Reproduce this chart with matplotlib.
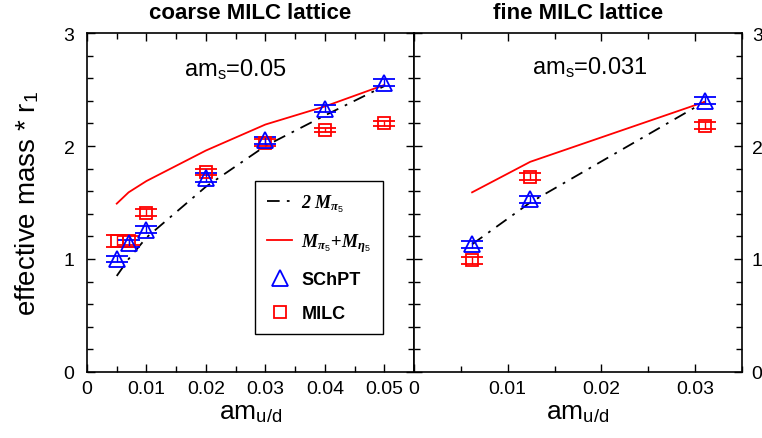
import numpy as np
import matplotlib
matplotlib.use("Agg")
import matplotlib.pyplot as plt
from matplotlib.ticker import MultipleLocator
from matplotlib.lines import Line2D

plt.rcParams['font.family'] = ['Liberation Sans', 'DejaVu Sans']
plt.rcParams['mathtext.fontset'] = 'custom'
plt.rcParams['mathtext.rm'] = 'Liberation Sans'
plt.rcParams['mathtext.it'] = 'Liberation Serif:italic:bold'
plt.rcParams['mathtext.bf'] = 'Liberation Serif:italic:bold'

# coarse lattice, am_s = 0.05
coarse_x = [0.005, 0.007, 0.01, 0.02, 0.03, 0.04, 0.05]
coarse_schpt = [1.00, 1.14, 1.26, 1.72, 2.05, 2.33, 2.56]
coarse_milc = [1.16, 1.16, 1.41, 1.77, 2.03, 2.14, 2.20]
coarse_2mpi = [0.85, 1.00, 1.19, 1.64, 2.00, 2.27, 2.53]
coarse_sum = [1.49, 1.59, 1.69, 1.96, 2.19, 2.35, 2.54]
coarse_err_s = [0.03, 0.03, 0.03, 0.04, 0.03, 0.03, 0.03]
coarse_err_m = [0.05, 0.04, 0.03, 0.03, 0.03, 0.02, 0.02]

# fine lattice, am_s = 0.031
fine_x = [0.0062, 0.0124, 0.031]
fine_schpt = [1.13, 1.53, 2.40]
fine_milc = [0.99, 1.73, 2.18]
fine_2mpi = [1.13, 1.50, 2.39]
fine_sum = [1.59, 1.86, 2.39]
fine_err_s = [0.03, 0.03, 0.03]
fine_err_m = [0.03, 0.03, 0.03]

fig = plt.figure(figsize=(7.62, 4.39), dpi=100)
W, H = 762.0, 439.0
ax1 = fig.add_axes([87 / W, (439 - 373) / H, 327 / W, 339 / H])
ax2 = fig.add_axes([414 / W, (439 - 373) / H, 328 / W, 339 / H])

dash = (0, (7, 4, 1.5, 4))


def panel(ax, x, s, m, l2, ls, es, em):
    ax.plot(x, l2, color='black', lw=1.3, linestyle=dash)
    ax.plot(x, ls, color='red', lw=1.3)
    ax.errorbar(x, m, yerr=em, fmt='s', ms=9, mfc='none', mec='red',
                mew=1.3, ecolor='red', elinewidth=1, capsize=8, capthick=1)
    ax.errorbar(x, s, yerr=es, fmt='^', ms=12, mfc='none', mec='blue',
                mew=1.3, ecolor='blue', elinewidth=1, capsize=8, capthick=1)
    ax.set_ylim(0, 3)
    ax.yaxis.set_major_locator(MultipleLocator(1))
    ax.yaxis.set_minor_locator(MultipleLocator(0.2))
    ax.xaxis.set_major_locator(MultipleLocator(0.01))
    ax.xaxis.set_minor_locator(MultipleLocator(0.005))
    ax.tick_params(which='both', direction='in', top=True, right=True,
                   labelsize=14, width=1)
    ax.tick_params(which='major', length=6)
    ax.tick_params(which='minor', length=4)
    ax.tick_params(axis='x', which='major', pad=6)
    ax.tick_params(axis='y', which='major', pad=9)
    ax.set_xlabel('am$_{\\mathrm{u/d}}$', fontsize=19, labelpad=2)
    for sp in ax.spines.values():
        sp.set_linewidth(1.2)


panel(ax1, coarse_x, coarse_schpt, coarse_milc, coarse_2mpi, coarse_sum,
      coarse_err_s, coarse_err_m)
panel(ax2, fine_x, fine_schpt, fine_milc, fine_2mpi, fine_sum,
      fine_err_s, fine_err_m)

ax1.set_xlim(0, 0.055)
ax1.set_xticks([0, 0.01, 0.02, 0.03, 0.04, 0.05])
ax1.set_xticklabels(['0', '0.01', '0.02', '0.03', '0.04', '0.05'])
ax2.set_xlim(0, 0.035)
ax2.set_xticks([0, 0.01, 0.02, 0.03])
ax2.set_xticklabels(['0', '0.01', '0.02', '0.03'])
ax2.tick_params(axis='y', labelleft=False, labelright=True, pad=7)

ax1.set_ylabel('effective mass * r$_{\\mathrm{1}}$', fontsize=20, labelpad=16)
ax1.set_title('coarse MILC lattice', fontsize=16, fontweight='bold', pad=11)
ax2.set_title('fine MILC lattice', fontsize=16, fontweight='bold', pad=11)

ax1.text(0.025, 2.68, 'am$_{\\mathrm{s}}$=0.05', fontsize=17, ha='center', va='center')
ax2.text(0.0188, 2.70, 'am$_{\\mathrm{s}}$=0.031', fontsize=17, ha='center', va='center')

handles = [
    Line2D([], [], color='black', lw=1.3, linestyle=dash),
    Line2D([], [], color='red', lw=1.3),
    Line2D([], [], marker='^', ls='none', ms=12, mfc='none', mec='blue', mew=1.3),
    Line2D([], [], marker='s', ls='none', ms=9, mfc='none', mec='red', mew=1.3),
]
labels = ['$\\mathbf{2}\\ \\mathit{M_{\\pi_5}}$',
          '$\\mathit{M_{\\pi_5}\\!+\\!M_{\\eta_5}}$',
          'SChPT', 'MILC']
leg = ax1.legend(handles, labels, loc='lower right', bbox_to_anchor=(0.905, 0.112),
                 borderaxespad=0, frameon=True, fancybox=False, edgecolor='black',
                 framealpha=1, prop={'size': 13, 'weight': 'bold'},
                 handlelength=1.4, labelspacing=0.95, borderpad=0.65,
                 handletextpad=0.5)
leg.get_frame().set_linewidth(1.0)

fig.savefig('out.png', dpi=100)
